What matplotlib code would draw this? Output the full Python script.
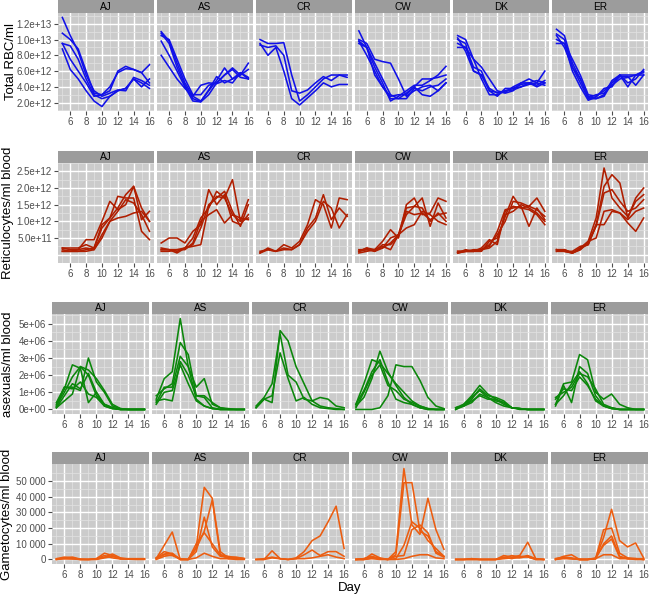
import matplotlib.pyplot as plt
import numpy as np

plt.rcParams['font.family'] = ['Liberation Sans', 'DejaVu Sans']

days = np.arange(5, 17)
mice = ['AJ', 'AS', 'CR', 'CW', 'DK', 'ER']

# Total RBC/ml, units of 1e12
rbc_aj = [[12.8, 10.5, 8.5, 5.5, 3.5, 2.8, 3.2, 3.6, 3.5, 5.2, 4.8, 4.2],
          [10.8, 10.0, 8.8, 6.0, 3.2, 3.0, 3.5, 6.0, 6.6, 6.2, 5.8, 6.8],
          [9.5, 9.2, 7.5, 5.0, 3.0, 2.5, 2.8, 3.5, 3.8, 5.0, 4.5, 3.8],
          [8.8, 6.2, 5.0, 3.5, 2.2, 1.5, 2.8, 3.5, 3.8, 5.0, 4.0, 5.0],
          [9.5, 7.5, 6.0, 4.5, 2.8, 3.0, 4.0, 5.8, 6.3, 6.2, 5.8, 4.5]]
rbc_as = [[11.0, 9.8, 7.0, 4.5, 2.8, 2.2, 3.5, 4.8, 6.4, 5.0, 5.8, 5.0],
          [10.8, 9.5, 6.5, 4.2, 2.5, 2.1, 3.0, 4.5, 5.5, 6.4, 5.5, 7.0],
          [10.5, 10.0, 7.5, 5.0, 3.0, 3.0, 4.2, 4.5, 5.5, 6.2, 5.2, 5.0],
          [9.8, 8.0, 6.0, 4.0, 2.2, 2.1, 3.6, 5.3, 4.5, 5.0, 5.5, 6.2],
          [8.0, 6.5, 5.0, 3.8, 2.8, 4.2, 4.5, 4.4, 4.8, 4.5, 5.8, 5.2]]
rbc_cr = [[10.0, 9.5, 9.5, 9.6, 5.5, 2.2, 3.0, 4.0, 5.0, 5.5, 5.5, 5.5],
          [9.3, 9.0, 9.2, 8.0, 3.5, 3.2, 3.6, 4.5, 5.3, 4.8, 5.5, 5.2],
          [9.5, 8.0, 9.0, 6.0, 2.5, 1.7, 2.6, 3.5, 4.5, 4.0, 4.3, 4.3]]
rbc_cw = [[11.1, 9.0, 6.5, 4.5, 2.2, 2.8, 3.5, 4.2, 4.2, 4.8, 5.5, 6.6],
          [10.0, 9.5, 7.5, 7.2, 7.0, 5.0, 2.8, 3.5, 4.0, 4.2, 3.5, 4.5],
          [9.8, 9.0, 5.5, 4.0, 2.5, 2.5, 3.2, 4.0, 5.0, 5.0, 5.2, 5.5],
          [9.5, 9.0, 7.0, 5.0, 3.0, 2.5, 2.5, 3.8, 3.5, 4.0, 4.2, 5.0],
          [9.8, 8.0, 6.0, 4.0, 2.8, 3.0, 3.0, 4.0, 3.0, 2.8, 3.5, 4.5]]
rbc_dk = [[10.5, 10.0, 7.5, 6.5, 5.0, 3.5, 3.2, 3.5, 4.5, 5.0, 4.5, 6.0],
          [10.0, 9.5, 6.0, 5.5, 3.5, 2.8, 3.8, 3.8, 4.0, 4.5, 4.2, 4.8],
          [9.5, 9.0, 7.5, 5.0, 3.0, 3.0, 3.5, 3.8, 4.3, 4.5, 4.8, 4.5],
          [9.0, 9.0, 6.5, 6.0, 3.5, 3.3, 3.3, 4.0, 4.5, 4.5, 4.0, 4.5],
          [10.2, 8.5, 6.0, 5.5, 3.8, 3.2, 3.5, 3.6, 4.0, 4.3, 4.5, 4.2]]
rbc_er = [[11.3, 10.5, 7.0, 5.0, 2.8, 2.5, 3.0, 4.8, 5.5, 5.5, 5.5, 6.0],
          [10.7, 10.0, 6.5, 4.5, 2.5, 2.5, 2.8, 4.5, 5.5, 4.0, 5.5, 5.8],
          [10.0, 9.5, 7.5, 5.5, 3.0, 2.8, 3.5, 4.5, 5.3, 5.3, 4.2, 5.5],
          [9.5, 9.5, 6.0, 4.0, 2.3, 2.7, 3.8, 4.0, 5.5, 4.5, 5.0, 6.2],
          [10.5, 9.0, 6.5, 5.0, 2.6, 3.0, 3.2, 4.2, 5.0, 5.2, 5.5, 5.5]]

# Reticulocytes/ml blood, units of 1e11
ret_aj = [[2.0, 1.5, 1.5, 4.5, 4.5, 10.0, 16.0, 13.5, 15.0, 20.5, 14.0, 10.0],
          [1.5, 1.0, 1.0, 1.5, 2.0, 8.0, 11.0, 17.5, 17.0, 17.0, 7.0, 4.5],
          [1.0, 1.0, 1.5, 2.0, 1.5, 6.0, 10.0, 11.0, 11.5, 12.5, 13.0, 10.0],
          [2.0, 2.0, 2.0, 3.0, 2.0, 9.0, 11.0, 14.0, 18.0, 20.5, 10.5, 13.0],
          [1.0, 1.0, 1.0, 1.0, 1.5, 5.0, 10.0, 13.0, 16.5, 15.5, 12.0, 7.0]]
ret_as = [[3.5, 5.0, 5.0, 3.5, 7.0, 9.0, 19.5, 15.0, 18.0, 10.0, 9.0, 12.0],
          [2.0, 1.5, 1.0, 2.0, 5.0, 11.0, 14.0, 19.0, 17.0, 22.5, 10.0, 16.5],
          [1.5, 1.5, 1.5, 2.0, 3.0, 8.0, 15.0, 17.0, 19.0, 13.0, 8.5, 15.0],
          [1.0, 1.0, 1.5, 1.5, 3.5, 10.0, 12.0, 13.5, 9.5, 12.0, 10.0, 11.0],
          [1.5, 1.5, 0.5, 2.0, 2.5, 3.0, 14.5, 17.5, 17.0, 12.0, 11.0, 10.5]]
ret_cr = [[0.5, 2.0, 1.0, 3.0, 2.0, 4.0, 9.0, 16.5, 15.0, 8.0, 17.0, 16.5],
          [1.0, 1.5, 1.0, 2.0, 1.5, 3.0, 8.0, 11.0, 18.0, 10.5, 14.0, 11.5],
          [0.5, 1.5, 1.0, 1.5, 1.5, 3.0, 7.0, 10.0, 16.0, 14.0, 8.0, 12.0]]
ret_cw = [[1.0, 2.0, 1.5, 4.0, 7.5, 5.0, 15.0, 17.0, 12.0, 12.5, 17.0, 16.0],
          [0.5, 1.0, 1.5, 2.0, 5.0, 6.0, 14.0, 14.5, 17.0, 8.5, 15.5, 11.0],
          [1.0, 2.0, 1.0, 3.0, 3.0, 5.5, 13.0, 12.0, 12.5, 10.5, 12.0, 12.5],
          [1.5, 1.5, 1.0, 2.0, 3.5, 6.0, 8.0, 9.0, 13.0, 12.0, 10.0, 9.0],
          [1.0, 1.5, 1.5, 2.5, 1.5, 6.0, 12.0, 14.5, 14.0, 10.0, 12.5, 10.0]]
ret_dk = [[0.5, 1.5, 1.0, 1.0, 4.0, 5.0, 11.5, 17.5, 14.0, 14.5, 17.0, 13.0],
          [1.0, 1.0, 1.0, 1.5, 2.5, 7.0, 13.5, 14.0, 14.5, 8.5, 14.0, 10.5],
          [0.5, 1.0, 1.0, 1.5, 3.0, 6.0, 10.0, 16.0, 15.5, 14.5, 13.5, 11.5],
          [1.0, 1.0, 1.0, 2.0, 4.5, 3.0, 13.0, 14.5, 14.0, 13.5, 12.0, 9.0],
          [0.5, 1.0, 1.5, 1.5, 2.0, 4.0, 12.0, 13.0, 15.0, 14.0, 12.5, 10.0]]
ret_er = [[1.5, 1.5, 0.5, 2.0, 4.0, 11.0, 26.0, 17.0, 14.0, 11.5, 16.0, 18.0],
          [1.5, 1.0, 1.0, 2.5, 3.0, 9.0, 20.5, 24.0, 21.5, 11.0, 17.0, 20.0],
          [1.0, 1.0, 0.5, 1.5, 3.5, 8.5, 18.5, 19.5, 16.0, 13.0, 14.0, 16.5],
          [1.0, 1.5, 0.5, 2.0, 3.0, 9.0, 9.0, 13.0, 12.5, 10.5, 13.0, 14.0],
          [1.5, 1.0, 0.5, 1.5, 4.0, 5.0, 13.0, 13.5, 12.5, 9.5, 7.0, 11.0]]

# asexuals/ml blood, units of 1e6
asx_aj = [[0.2, 1.3, 1.3, 1.1, 3.0, 1.6, 1.0, 0.2, 0.05, 0.0, 0.0, 0.0],
          [0.1, 0.5, 0.9, 2.5, 2.0, 0.8, 0.3, 0.1, 0.0, 0.0, 0.0, 0.0],
          [0.3, 1.2, 2.6, 2.4, 0.4, 1.0, 0.2, 0.05, 0.0, 0.0, 0.0, 0.0],
          [0.2, 1.0, 1.9, 2.5, 2.3, 1.8, 1.1, 0.3, 0.05, 0.0, 0.0, 0.0],
          [0.4, 1.3, 1.2, 1.6, 0.9, 0.7, 0.2, 0.05, 0.0, 0.0, 0.0, 0.0],
          [0.1, 0.8, 1.5, 1.2, 2.1, 1.0, 0.3, 0.1, 0.0, 0.0, 0.0, 0.0]]
asx_as = [[0.6, 1.8, 2.2, 5.3, 2.5, 1.3, 1.8, 0.3, 0.1, 0.0, 0.0, 0.0],
          [0.8, 1.2, 1.5, 3.9, 3.2, 0.8, 0.8, 0.4, 0.1, 0.05, 0.0, 0.0],
          [0.4, 1.3, 1.3, 3.1, 2.5, 0.6, 0.2, 0.05, 0.0, 0.0, 0.0, 0.0],
          [0.5, 0.6, 0.5, 2.8, 2.0, 0.8, 0.7, 0.1, 0.0, 0.0, 0.0, 0.0],
          [0.3, 1.0, 1.1, 2.6, 1.5, 0.5, 0.2, 0.05, 0.0, 0.0, 0.0, 0.0]]
asx_cr = [[0.1, 0.6, 0.4, 4.6, 4.0, 2.5, 1.5, 0.5, 0.7, 0.6, 0.2, 0.1],
          [0.2, 0.7, 1.5, 4.4, 2.0, 1.6, 0.6, 0.5, 0.2, 0.1, 0.05, 0.0],
          [0.1, 0.6, 0.8, 3.3, 1.8, 0.5, 0.7, 0.3, 0.1, 0.05, 0.0, 0.0]]
asx_cw = [[0.3, 1.5, 2.9, 2.7, 2.1, 1.5, 1.0, 0.5, 0.2, 0.05, 0.0, 0.0],
          [0.0, 0.0, 0.0, 0.1, 0.8, 2.6, 2.5, 2.5, 1.7, 0.7, 0.2, 0.05],
          [0.2, 0.7, 1.8, 3.4, 2.2, 1.4, 0.7, 0.3, 0.1, 0.0, 0.0, 0.0],
          [0.1, 1.0, 2.0, 2.6, 1.4, 1.1, 0.6, 0.4, 0.2, 0.05, 0.0, 0.0],
          [0.3, 1.1, 2.2, 2.9, 1.6, 0.6, 0.4, 0.3, 0.1, 0.0, 0.0, 0.0]]
asx_dk = [[0.1, 0.3, 0.8, 1.4, 0.9, 0.6, 0.4, 0.1, 0.05, 0.0, 0.0, 0.0],
          [0.1, 0.2, 0.6, 1.2, 0.8, 0.7, 0.5, 0.1, 0.05, 0.0, 0.0, 0.0],
          [0.0, 0.3, 0.7, 1.1, 0.7, 0.5, 0.4, 0.1, 0.05, 0.0, 0.0, 0.0],
          [0.1, 0.2, 0.5, 0.8, 0.6, 0.6, 0.3, 0.1, 0.05, 0.0, 0.0, 0.0],
          [0.0, 0.2, 0.4, 0.9, 0.7, 0.4, 0.2, 0.1, 0.0, 0.0, 0.0, 0.0]]
asx_er = [[0.3, 1.5, 1.6, 3.2, 2.9, 1.0, 0.6, 0.9, 0.3, 0.1, 0.0, 0.0],
          [0.2, 1.4, 0.4, 2.5, 2.1, 0.8, 0.2, 0.1, 0.0, 0.0, 0.0, 0.0],
          [0.7, 1.0, 1.3, 2.1, 1.9, 1.2, 0.3, 0.1, 0.0, 0.0, 0.0, 0.0],
          [0.3, 0.8, 1.5, 2.2, 1.5, 0.5, 0.2, 0.05, 0.0, 0.0, 0.0, 0.0],
          [0.6, 1.2, 1.1, 1.9, 1.4, 0.6, 0.2, 0.05, 0.0, 0.0, 0.0, 0.0]]

# Gametocytes/ml blood, units of 1e3
gam_aj = [[0.5, 1.5, 1.0, 0.0, 0.0, 0.5, 4.0, 2.5, 0.5, 0.5, 0.5, 0.5],
          [0.0, 1.0, 1.5, 0.2, 0.0, 0.2, 1.5, 3.5, 1.0, 0.3, 0.2, 0.2],
          [0.3, 0.5, 0.5, 0.0, 0.0, 0.5, 2.5, 1.0, 0.3, 0.2, 0.2, 0.2],
          [0.0, 0.5, 0.3, 0.0, 0.0, 0.0, 1.0, 2.0, 0.5, 0.2, 0.0, 0.0]]
gam_as = [[0.5, 9.0, 17.5, 0.0, 0.0, 8.0, 46.0, 39.0, 5.0, 1.0, 1.0, 0.5],
          [1.0, 5.0, 3.5, 0.0, 0.0, 5.0, 27.0, 8.0, 2.0, 1.5, 1.5, 0.5],
          [0.5, 3.5, 4.0, 0.0, 0.0, 7.0, 18.0, 38.0, 3.0, 2.0, 1.0, 0.5],
          [1.0, 3.0, 2.5, 0.5, 0.0, 10.0, 17.0, 10.0, 3.0, 0.5, 0.5, 0.5],
          [0.0, 2.0, 3.0, 0.0, 0.0, 1.0, 4.0, 2.0, 0.5, 0.5, 0.0, 0.0]]
gam_cr = [[0.0, 0.0, 5.5, 0.5, 0.0, 1.0, 5.0, 12.0, 15.0, 24.0, 34.0, 7.0],
          [0.0, 0.5, 1.5, 0.5, 0.0, 0.5, 3.0, 6.0, 2.5, 5.0, 5.0, 2.0],
          [0.0, 0.0, 1.0, 0.5, 0.0, 0.5, 0.5, 1.0, 2.0, 3.0, 1.5, 0.5]]
gam_cw = [[0.0, 0.0, 3.5, 1.0, 0.0, 5.0, 58.0, 22.0, 16.0, 39.0, 19.0, 6.5],
          [0.0, 0.5, 2.0, 0.5, 0.0, 3.0, 49.0, 49.0, 18.0, 15.0, 5.0, 2.0],
          [0.0, 0.0, 1.0, 0.5, 0.0, 0.5, 9.0, 24.0, 20.0, 12.0, 7.0, 2.0],
          [0.0, 0.5, 1.5, 0.5, 0.0, 2.0, 2.5, 19.0, 22.0, 17.0, 4.0, 1.5],
          [0.0, 0.0, 0.5, 0.0, 0.0, 0.0, 0.5, 2.0, 3.0, 3.0, 1.0, 0.5]]
gam_dk = [[0.0, 0.0, 0.5, 0.0, 0.0, 0.0, 2.5, 1.5, 2.5, 11.0, 0.5, 0.0],
          [0.0, 0.0, 0.0, 0.0, 0.0, 0.0, 1.0, 2.5, 1.5, 2.5, 0.5, 0.0],
          [0.0, 0.0, 0.5, 0.0, 0.0, 0.0, 1.5, 0.5, 2.0, 1.5, 0.0, 0.0],
          [0.0, 0.0, 0.0, 0.0, 0.0, 0.0, 0.5, 1.0, 1.0, 2.0, 0.0, 0.0]]
gam_er = [[0.5, 1.5, 1.0, 0.0, 0.0, 0.5, 14.0, 32.0, 12.0, 8.0, 10.5, 1.0],
          [0.0, 2.0, 3.0, 0.0, 0.0, 0.5, 19.0, 20.0, 4.0, 1.0, 0.5, 0.0],
          [0.5, 1.0, 0.5, 0.0, 0.0, 0.5, 10.0, 15.0, 2.0, 0.5, 0.5, 0.5],
          [0.0, 1.0, 0.5, 0.0, 0.0, 1.0, 9.0, 13.0, 1.5, 0.5, 0.5, 0.0],
          [0.0, 0.5, 0.5, 0.0, 0.0, 0.5, 3.0, 3.0, 0.5, 0.5, 0.0, 0.0]]

def fmt_sci1(v):
    return '%.1e' % v

def fmt_sci0(v):
    return '%.0e' % v

def fmt_thousands(v):
    return '{:,}'.format(int(round(v))).replace(',', ' ')

# label, panels, unit, colour, major ticks, labelled ticks, minor ticks, formatter,
# row layout in pixels: left, strip top, panel top, panel bottom, ylabel x
rows = [
    ('Total RBC/ml', [rbc_aj, rbc_as, rbc_cr, rbc_cw, rbc_dk, rbc_er], 1e12, '#1111E8',
     np.arange(2e12, 13e12, 2e12), np.arange(2e12, 13e12, 2e12), np.arange(1e12, 14e12, 2e12),
     fmt_sci1, (58, 0, 13, 111, 11)),
    ('Reticulocytes/ml blood', [ret_aj, ret_as, ret_cr, ret_cw, ret_dk, ret_er], 1e11, '#B01E00',
     np.arange(0, 2.6e12, 0.5e12), np.arange(0.5e12, 2.6e12, 0.5e12), np.arange(-0.25e12, 2.9e12, 0.5e12),
     fmt_sci1, (58, 151, 163, 263, 8)),
    ('asexuals/ml blood', [asx_aj, asx_as, asx_cr, asx_cw, asx_dk, asx_er], 1e6, '#0B870B',
     np.arange(0, 5.1e6, 1e6), np.arange(0, 5.1e6, 1e6), np.arange(0.5e6, 6e6, 1e6),
     fmt_sci0, (52, 302, 314, 414, 8)),
    ('Gametocytes/ml blood', [gam_aj, gam_as, gam_cr, gam_cw, gam_dk, gam_er], 1e3, '#EC5D10',
     np.arange(0, 50001, 10000), np.arange(0, 50001, 10000), np.arange(5000, 65000, 10000),
     fmt_thousands, (52, 452, 464, 564, 7)),
]

W, H = 650, 596
fig = plt.figure(figsize=(W / 100, H / 100), dpi=100)

right_px = 648
gap = 3
panel_bg = '#CBCBCB'
strip_bg = '#9C9C9C'
tick_col = '#4D4D4D'

for label, panels, unit, color, majors, labelled, minors, fmt, lay in rows:
    left, strip_top, ptop, pbot, ylab_x = lay
    pw = (right_px - left - 5 * gap) / 6
    allv = np.concatenate([np.ravel(p) for p in panels]) * unit
    vmin, vmax = allv.min(), allv.max()
    pad = 0.05 * (vmax - vmin)
    for i, (mouse, lines) in enumerate(zip(mice, panels)):
        x0 = left + i * (pw + gap)
        ax = fig.add_axes([x0 / W, 1 - pbot / H, pw / W, (pbot - ptop) / H])
        ax.set_facecolor(panel_bg)
        for y in lines:
            ax.plot(days, np.array(y) * unit, color=color, lw=1.15, zorder=3)
        ax.set_xlim(4.45, 16.55)
        ax.set_ylim(vmin - pad, vmax + pad)
        ax.set_xticks(np.arange(6, 17, 2))
        ax.set_xticks(np.arange(5, 17, 2), minor=True)
        ax.set_yticks(majors)
        ax.set_yticks(minors, minor=True)
        ax.grid(True, which='major', color='white', lw=1.0)
        ax.grid(True, which='minor', color='#E2E2E2', lw=0.5)
        ax.set_axisbelow(True)
        for s in ax.spines.values():
            s.set_visible(False)
        ax.tick_params(which='major', length=3, width=0.8, color=tick_col,
                       labelcolor=tick_col, labelsize=7, pad=1.5)
        ax.tick_params(which='minor', length=0)
        if i == 0:
            ax.set_yticklabels([fmt(v) if v in labelled else '' for v in majors])
            for v, t in zip(majors, ax.yaxis.get_major_ticks()):
                if v not in labelled:
                    t.tick1line.set_visible(False)
        else:
            ax.tick_params(axis='y', which='major', left=False, labelleft=False)
        # facet strip
        sax = fig.add_axes([x0 / W, 1 - ptop / H, pw / W, (ptop - strip_top) / H])
        sax.set_facecolor(strip_bg)
        sax.set_xticks([])
        sax.set_yticks([])
        for s in sax.spines.values():
            s.set_visible(False)
        sax.text(0.5, 0.5, mouse, ha='center', va='center', fontsize=7.2,
                 color='black', transform=sax.transAxes)
    fig.text(ylab_x / W, 1 - (ptop + pbot) / 2 / H, label, rotation=90,
             ha='center', va='center', fontsize=9.5)

fig.text(350 / W, 1 - 588 / H, 'Day', ha='center', va='center', fontsize=9.5)

fig.savefig('out.png', dpi=100, facecolor='white')
